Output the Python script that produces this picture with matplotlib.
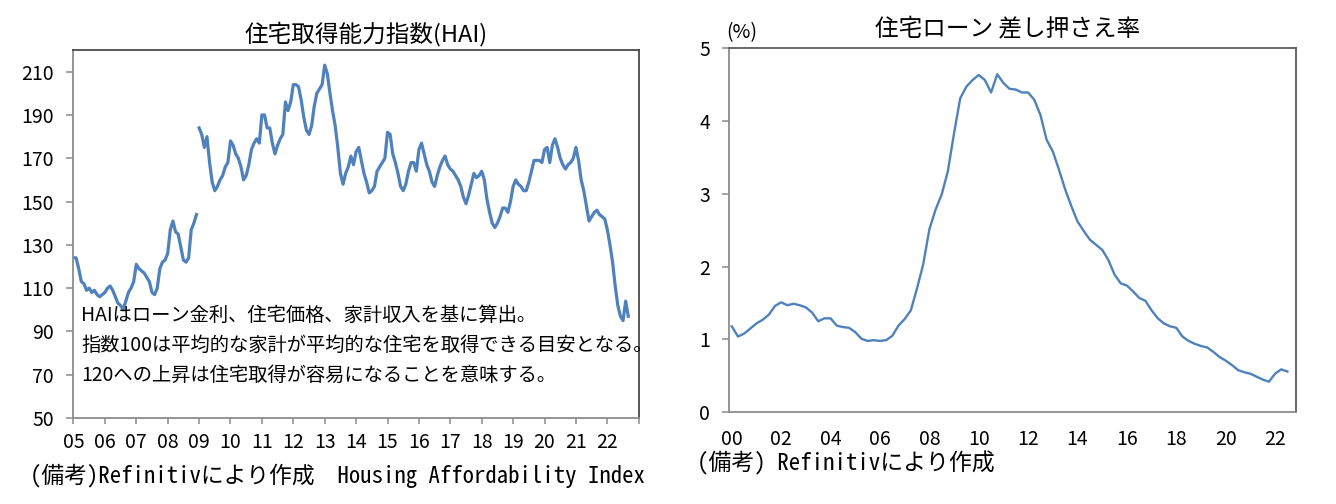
import numpy as np
import matplotlib
matplotlib.use('Agg')
import matplotlib.pyplot as plt

plt.rcParams['font.family'] = ['Noto Sans CJK JP', 'DejaVu Sans']

# 住宅取得能力指数 (monthly), old base 2005-2008
hai_old = [124, 124, 119, 113, 112, 109, 110, 108, 109, 107, 106, 107,
           108, 110, 111, 109, 106, 103, 102, 100, 104, 108, 110, 113,
           121, 119, 118, 117, 115, 113, 108, 107, 110, 119, 122, 123,
           126, 137, 141, 136, 135, 129, 123, 122, 124, 137, 140, 144]
# new base 2009-01 .. 2022-09
hai_new = [184, 181, 175, 180, 168, 159, 155, 157, 160, 162, 166, 168,
           178, 176, 172, 170, 166, 160, 162, 167, 174, 177, 179, 177,
           190, 190, 184, 184, 177, 172, 176, 179, 181, 196, 192, 196,
           204, 204, 203, 197, 189, 183, 181, 185, 194, 200, 202, 204,
           213, 209, 200, 192, 185, 175, 163, 158, 163, 166, 171, 167,
           173, 175, 169, 163, 159, 154, 155, 157, 164, 166, 168, 170,
           182, 181, 172, 168, 163, 157, 155, 158, 164, 168, 168, 164,
           174, 177, 172, 167, 164, 159, 157, 162, 166, 169, 171, 167,
           165, 164, 162, 160, 157, 152, 149, 153, 158, 163, 161, 162,
           164, 160, 151, 145, 140, 138, 140, 143, 147, 147, 145, 150,
           157, 160, 158, 157, 155, 155, 159, 164, 169, 169, 169, 168,
           174, 175, 168, 176, 179, 175, 170, 167, 165, 167, 168, 170,
           175, 169, 160, 155, 148, 141, 143, 145, 146, 144, 143, 142,
           137, 130, 122, 111, 102, 97, 95, 104, 97]

# 住宅ローン差し押さえ率 (quarterly, 2000Q1 .. 2022Q3)
foreclosure = [1.18, 1.04, 1.08, 1.15,
               1.22, 1.27, 1.34, 1.46,
               1.51, 1.47, 1.49, 1.47,
               1.44, 1.37, 1.25, 1.29,
               1.29, 1.19, 1.17, 1.16,
               1.10, 1.01, 0.98, 0.99,
               0.98, 0.99, 1.05, 1.19,
               1.28, 1.40, 1.70, 2.03,
               2.51, 2.78, 2.99, 3.31,
               3.83, 4.31, 4.47, 4.56,
               4.63, 4.56, 4.39, 4.64,
               4.52, 4.44, 4.43, 4.39,
               4.39, 4.29, 4.08, 3.74,
               3.58, 3.33, 3.06, 2.83,
               2.62, 2.49, 2.37, 2.30,
               2.23, 2.09, 1.89, 1.77,
               1.74, 1.66, 1.57, 1.53,
               1.40, 1.29, 1.22, 1.18,
               1.16, 1.04, 0.98, 0.94,
               0.91, 0.89, 0.83, 0.76,
               0.71, 0.65, 0.58, 0.55,
               0.53, 0.49, 0.45, 0.42,
               0.53, 0.59, 0.56]

hai_years = list(range(2005, 2024))
hai_labels = ['05', '06', '07', '08', '09', '10', '11', '12', '13', '14',
              '15', '16', '17', '18', '19', '20', '21', '22', '']
fc_years = list(range(2000, 2023, 2))
fc_labels = ['00', '02', '04', '06', '08', '10', '12', '14', '16', '18', '20', '22']

line_color = '#4F81BD'
light_spine = '#8C8C8C'
dark_spine = '#4A4A4A'
note_font = ['Noto Sans Mono CJK JP', 'DejaVu Sans Mono', 'Noto Sans CJK JP']

fig = plt.figure(figsize=(13.36, 5.04), dpi=100)

# ---- left: HAI
ax1 = fig.add_axes([0.0550, 0.1706, 0.4231, 0.7302])
x_old = 2005 + np.arange(len(hai_old)) / 12
x_new = 2009 + np.arange(len(hai_new)) / 12
ax1.plot(x_old, hai_old, color=line_color, lw=2.3, solid_joinstyle='round')
ax1.plot(x_new, hai_new, color=line_color, lw=2.3, solid_joinstyle='round')
ax1.set_xlim(2005, 2023)
ax1.set_ylim(50, 220)
ax1.set_yticks(range(50, 211, 20))
ax1.set_xticks(hai_years)
ax1.set_xticklabels(hai_labels)
ax1.tick_params(axis='y', direction='out', length=5, width=1.1, color=light_spine,
                labelsize=14, pad=9)
ax1.tick_params(axis='x', direction='out', length=4, width=1.1, color=light_spine,
                labelsize=14, pad=6)
for s in ['left', 'bottom']:
    ax1.spines[s].set_color(light_spine)
for s in ['top', 'right']:
    ax1.spines[s].set_color(dark_spine)
for s in ax1.spines.values():
    s.set_linewidth(1.3)
ax1.set_title('住宅取得能力指数(HAI)', fontsize=17, pad=6, x=0.5175)
note = ('HAIはローン金利、住宅価格、家計収入を基に算出。\n'
        '指数100は平均的な家計が平均的な住宅を取得できる目安となる。\n'
        '120への上昇は住宅取得が容易になることを意味する。')
ax1.text(0.014, 0.307, note, transform=ax1.transAxes, fontsize=13.9,
         va='top', ha='left', linespacing=1.57)
fig.text(30 / 1336, 1 - 476 / 504,
         '(備考)Refinitivにより作成  Housing Affordability Index',
         fontsize=16.4, va='center', ha='left', family=note_font)

# ---- right: foreclosure rate
ax2 = fig.add_axes([0.5459, 0.1819, 0.4242, 0.7228])
x_fc = 2000 + np.arange(len(foreclosure)) / 4
ax2.plot(x_fc, foreclosure, color=line_color, lw=1.7)
ax2.set_xlim(1999.9, 2022.85)
ax2.set_ylim(0, 5)
ax2.set_yticks(range(0, 6))
ax2.set_xticks(fc_years)
ax2.set_xticklabels(fc_labels)
ax2.tick_params(axis='y', direction='out', length=5, width=1.1, color=light_spine,
                labelsize=14, pad=9)
ax2.tick_params(axis='x', length=0, labelsize=14, pad=12)
for s in ['left', 'bottom']:
    ax2.spines[s].set_color(light_spine)
for s in ['top', 'right']:
    ax2.spines[s].set_color('#5A5A5A')
for s in ax2.spines.values():
    s.set_linewidth(1.3)
ax2.set_title('住宅ローン 差し押さえ率', fontsize=17, pad=9, x=0.4918)
fig.text(742 / 1336, 1 - 33 / 504, '(%)', fontsize=14, ha='center', va='center')
fig.text(697 / 1336, 1 - 463 / 504, '(備考) Refinitivにより作成',
         fontsize=16.5, va='center', ha='left', family=note_font)

fig.savefig('out.png', dpi=100)
